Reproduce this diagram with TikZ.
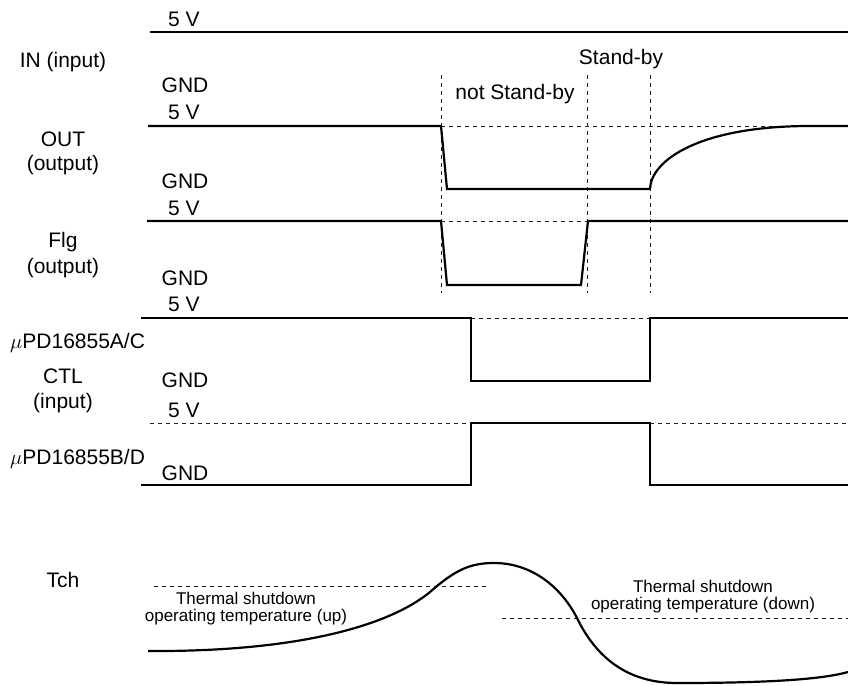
\documentclass[tikz,border=0pt]{standalone}
\usepackage{fontspec}
\setmainfont{Liberation Sans}
\usepackage{xcolor}
\usepackage{tikz}
\definecolor{SignalBlack}{HTML}{000000}
\definecolor{GuideGray}{HTML}{222222}
\tikzset{
  wave/.style={draw=SignalBlack, line width=2.2pt, line join=miter},
  guide/.style={draw=GuideGray, line width=0.9pt, dash pattern=on 4pt off 4pt},
  lbl/.style={font=\fontsize{21}{24}\selectfont, inner sep=0pt},
  note/.style={font=\fontsize{17}{17}\selectfont, inner sep=0pt, align=center},
}

\begin{document}
\begin{tikzpicture}[x=1pt, y=-1pt]
            \useasboundingbox (0,0) rectangle (848,685);

            % Signal names
            \node[lbl] (nameIn) at (63,62) {IN (input)};
            \node[lbl] (nameOut) at (63,139) {OUT};
            \node[lbl] (nameOutSub) at (63,165) {(output)};
            \node[lbl] (nameFlg) at (63,242) {Flg};
            \node[lbl] (nameFlgSub) at (63,268) {(output)};
            \node[lbl, anchor=west] (nameCtlAC) at (10,343) {$\mu$PD16855A/C};
            \node[lbl] (nameCtl) at (63,376) {CTL};
            \node[lbl] (nameCtlSub) at (63,403) {(input)};
            \node[lbl, anchor=west] (nameCtlBD) at (10,459) {$\mu$PD16855B/D};
            \node[lbl] (nameTch) at (63,580) {Tch};

            % Levels
            \node[lbl] (highIn) at (184,19) {5 V};
            \node[lbl] (lowIn) at (185,85) {GND};
            \node[lbl] (highOut) at (184,112) {5 V};
            \node[lbl] (lowOut) at (185,181) {GND};
            \node[lbl] (highFlg) at (184,208) {5 V};
            \node[lbl] (lowFlg) at (185,278) {GND};
            \node[lbl] (highCtlAC) at (184,304) {5 V};
            \node[lbl] (lowCtlAC) at (185,380) {GND};
            \node[lbl] (highCtlBD) at (184,410) {5 V};
            \node[lbl] (lowCtlBD) at (185,473) {GND};

            % States
            \node[lbl] (standby) at (621,59) {Stand-by};
            \node[lbl] (notStandby) at (515,94) {not Stand-by};

            % Time markers
            \draw[guide] (441,75) -- (441,293);
            \draw[guide] (587,75) -- (587,293);
            \draw[guide] (650,75) -- (650,293);

            % IN
            \draw[wave] (150,32) -- (848,32);

            % OUT
            \draw[guide] (441,126) -- (810,126);
            \draw[wave] (148,126) -- (441,126) -- (447,189) -- (650,189)
                .. controls (651,160) and (700,126) .. (810,126) -- (848,126);

            % Flg
            \draw[guide] (441,221) -- (588,221);
            \draw[wave] (147,221) -- (441,221) -- (447,285) -- (581,285)
                -- (588,221) -- (848,221);

            % CTL A/C
            \draw[guide] (471,318) -- (650,318);
            \draw[wave] (141,318) -- (471,318) -- (471,381) -- (650,381)
                -- (650,318) -- (848,318);

            % CTL B/D
            \draw[guide] (150,423) -- (471,423);
            \draw[guide] (650,423) -- (848,423);
            \draw[wave] (141,485) -- (471,485) -- (471,423) -- (650,423)
                -- (650,485) -- (848,485);

            % Tch
            \draw[guide] (154,586) -- (486,586);
            \draw[guide] (502,618) -- (848,618);
            \node[note] (noteUp) at (246,609) {Thermal shutdown\\operating temperature (up)};
            \node[note] (noteDown) at (703,597) {Thermal shutdown\\operating temperature (down)};
            \draw[wave] (148,651) .. controls (300,652) and (390,625) .. (430,592)
                .. controls (455,570) and (470,563) .. (494,563)
                .. controls (530,563) and (560,585) .. (577,618)
                .. controls (595,655) and (625,683) .. (677,683)
                .. controls (760,683) and (820,680) .. (848,672);
        \end{tikzpicture}
\end{document}
